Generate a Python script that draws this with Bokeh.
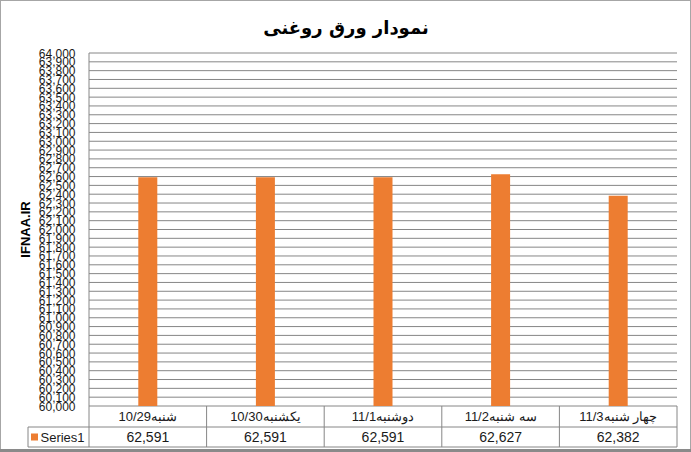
import math
from bokeh.plotting import figure
from bokeh.models import Range1d, ColumnDataSource
from bokeh.core.properties import value
from bokeh.embed import file_html
from bokeh.resources import INLINE

# ---- data ----
categories = ["شنبه10/29", "یکشنبه10/30", "دوشنبه11/1", "سه شنبه11/2", "چهار شنبه11/3"]
prices = [62591, 62591, 62591, 62627, 62382]
series_name = "Series1"
chart_title = "نمودار ورق روغنی"
axis_title = "IFNAA.IR"
y_min, y_max, y_step = 60000, 64000, 100

# ---- layout (canvas pixels) ----
W, H = 691, 452
LEFT, RIGHT = 88.5, 676.5      # plot area left / right edges
TOP, BASE = 52.5, 405.5        # rows of the top and bottom gridlines
ROW1, ROW2 = 426.5, 446.5      # bottom edges of the two data-table rows
KEY_LEFT = 27.5                # left edge of the series-name cell
LABEL_RIGHT = 75               # right edge of the value-axis labels

FONT = "Liberation Sans"
ARABIC_FONT = "DejaVu Sans"
GRID = "#868686"
BAR = "#ED7D31"
TEXT = "#1a1a1a"

n = len(categories)
xs = list(range(n))
unit = (RIGHT - LEFT) / n                      # pixels per category
ppu = (BASE - TOP) / (y_max - y_min)           # pixels per price unit
ticks = list(range(y_min, y_max + 1, y_step))

# the frame covers the whole canvas; x in categories, y in price units
p = figure(width=W, height=H, output_backend="svg", toolbar_location=None, title=None,
           x_range=Range1d(-0.5 - LEFT / unit, n - 0.5 + (W - RIGHT) / unit),
           y_range=Range1d(y_min - (H - BASE) / ppu, y_max + TOP / ppu),
           x_axis_location=None, y_axis_location=None, min_border=0)
# pixel ranges for the decoration around the plot area
p.extra_x_ranges = {"px": Range1d(0, W)}
p.extra_y_ranges = {"px": Range1d(H, 0)}
p.outline_line_color = None
p.xgrid.visible = False
p.ygrid.visible = False
p.background_fill_color = None
p.border_fill_color = None
p.styles = {"background-color": "white",
            "box-shadow": "inset 0 -3px 0 #8a8a8a, inset 0 0 0 1px #a6a6a6"}

# ---- value axis: gridlines, axis line and tick labels ----
p.segment(x0=[-0.5] * len(ticks), y0=ticks, x1=[n - 0.5] * len(ticks), y1=ticks,
          line_color=GRID, line_width=1)
p.segment(x0=[-0.5], y0=[y_min], x1=[-0.5], y1=[y_max], line_color=GRID, line_width=1)
p.text(x=[LABEL_RIGHT] * len(ticks), y=ticks, text=[f"{t:,}" for t in ticks],
       x_range_name="px", text_align="right", text_baseline="middle",
       text_font=value(FONT), text_font_size="12px", text_color=TEXT)

# ---- bars ----
src = ColumnDataSource(dict(x=xs, price=prices))
p.vbar(x="x", top="price", bottom=y_min, width=19 / unit,
       source=src, fill_color=BAR, line_color=None)

# ---- data table under the plot area ----
edges = [i - 0.5 for i in range(n + 1)]
p.segment(x0=edges, y0=[BASE] * len(edges), x1=edges, y1=[ROW2] * len(edges),
          line_color=GRID, line_width=1, y_range_name="px")
p.segment(x0=[-0.5, -0.5], y0=[ROW1, ROW2], x1=[n - 0.5, n - 0.5], y1=[ROW1, ROW2],
          line_color=GRID, line_width=1, y_range_name="px")
p.text(x=xs, y=[(BASE + ROW1) / 2] * n, text=categories, text_align="center",
       text_baseline="middle", text_font=value(FONT), text_font_size="13px",
       text_color=TEXT, y_range_name="px")
p.text(x=xs, y=[(ROW1 + ROW2) / 2] * n, text=[f"{v:,}" for v in prices],
       text_align="center", text_baseline="middle", text_font=value(FONT),
       text_font_size="14px", text_color=TEXT, y_range_name="px")

# series-name cell with its colour key
p.segment(x0=[KEY_LEFT, KEY_LEFT, KEY_LEFT], y0=[ROW1, ROW2, ROW1],
          x1=[LEFT, LEFT, KEY_LEFT], y1=[ROW1, ROW2, ROW2],
          line_color=GRID, line_width=1, x_range_name="px", y_range_name="px")
p.scatter(x=[KEY_LEFT + 6.5], y=[(ROW1 + ROW2) / 2], marker="square", size=7,
          fill_color=BAR, line_color=None, x_range_name="px", y_range_name="px")
p.text(x=[KEY_LEFT + 12.5], y=[(ROW1 + ROW2) / 2], text=[series_name],
       text_align="left", text_baseline="middle", text_font=value(FONT),
       text_font_size="13px", text_color=TEXT, x_range_name="px", y_range_name="px")

# ---- title and value-axis caption ----
p.text(x=[W / 2], y=[27], text=[chart_title], text_align="center",
       text_baseline="middle", text_font=value(ARABIC_FONT), text_font_style="bold",
       text_font_size="18px", text_color="black", x_range_name="px", y_range_name="px")
p.text(x=[25], y=[(TOP + BASE) / 2], text=[axis_title], angle=math.pi / 2,
       text_align="center", text_baseline="middle", text_font=value(FONT),
       text_font_style="bold", text_font_size="13px", text_color="black",
       x_range_name="px", y_range_name="px")

open("out.html", "w").write(file_html(p, INLINE))
